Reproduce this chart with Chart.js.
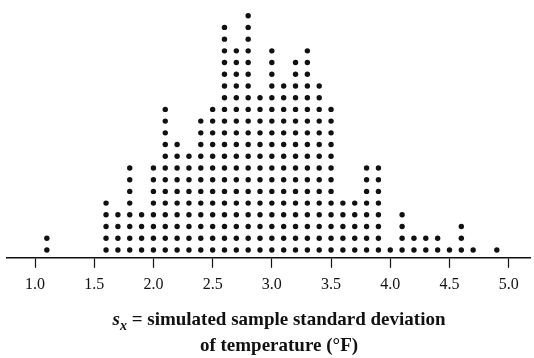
<!DOCTYPE html>
<html>
<head>
<meta charset="utf-8">
<script src="https://cdn.jsdelivr.net/npm/chart.js@4"></script>
<style>
    body { margin: 0; background: #fff; }
    #wrap { position: relative; width: 534px; height: 358px; }
    #axis_title {
        position: absolute; left: 0; top: 306px; width: 534px;
        text-align: center; padding-left: 24px; box-sizing: border-box;
        font-family: 'Liberation Serif', 'DejaVu Serif', serif;
        font-weight: bold; font-size: 19px; line-height: 26px; color: #111;
    }
    #axis_title sub { font-size: 14px; line-height: 0; }
</style>
</head>
<body>
<div id="wrap">
    <canvas id="chart" width="534" height="358"></canvas>
    <div id="axis_title"><i>s</i><sub><i>x</i></sub> = simulated sample standard deviation<br>of temperature (°F)</div>
</div>
<script>
// simulated sample standard deviation values and how many dots sit on each
const sdValues = [1.1, 1.6, 1.7, 1.8, 1.9, 2.0, 2.1, 2.2, 2.3, 2.4, 2.5, 2.6, 2.7, 2.8, 2.9, 3.0, 3.1, 3.2, 3.3, 3.4, 3.5, 3.6, 3.7, 3.8, 3.9, 4.0, 4.1, 4.2, 4.3, 4.4, 4.5, 4.6, 4.7, 4.9]
const dotCounts = [2, 5, 4, 8, 4, 8, 13, 10, 9, 12, 13, 20, 18, 21, 14, 18, 15, 17, 18, 15, 13, 5, 5, 8, 8, 1, 4, 2, 2, 2, 1, 3, 1, 1]
const tickValues = [1.0, 1.5, 2.0, 2.5, 3.0, 3.5, 4.0, 4.5, 5.0]

const dots = []
sdValues.forEach((v, i) => {
    for(let k = 1; k <= dotCounts[i]; k++)
        dots.push({x: v, y: k})
})

new Chart(document.getElementById('chart'), {
    type: 'scatter',
    data: {
        datasets: [{
            data: dots,
            backgroundColor: '#111',
            borderColor: '#111',
            pointRadius: 2.7,
            pointHoverRadius: 2.7,
            borderWidth: 0
        }]
    },
    options: {
        responsive: false,
        animation: false,
        events: [],
        layout: { padding: { left: 7, right: 4, top: 4, bottom: 57 } },
        plugins: { legend: { display: false }, tooltip: { enabled: false } },
        scales: {
            x: {
                type: 'linear',
                min: 0.7635,
                max: 5.18,
                afterBuildTicks: scale => { scale.ticks = tickValues.map(v => ({ value: v })) },
                border: { display: true, color: '#111', width: 1.5 },
                grid: { drawOnChartArea: false, drawTicks: true, tickLength: 10, color: '#111', tickWidth: 1.2 },
                ticks: {
                    padding: 7,
                    color: '#111',
                    maxRotation: 0,
                    font: { family: "'Liberation Serif', serif", size: 16 },
                    callback: v => v.toFixed(1)
                }
            },
            y: {
                display: false,
                min: 0.33,
                max: 22
            }
        }
    }
})
</script>
</body>
</html>
